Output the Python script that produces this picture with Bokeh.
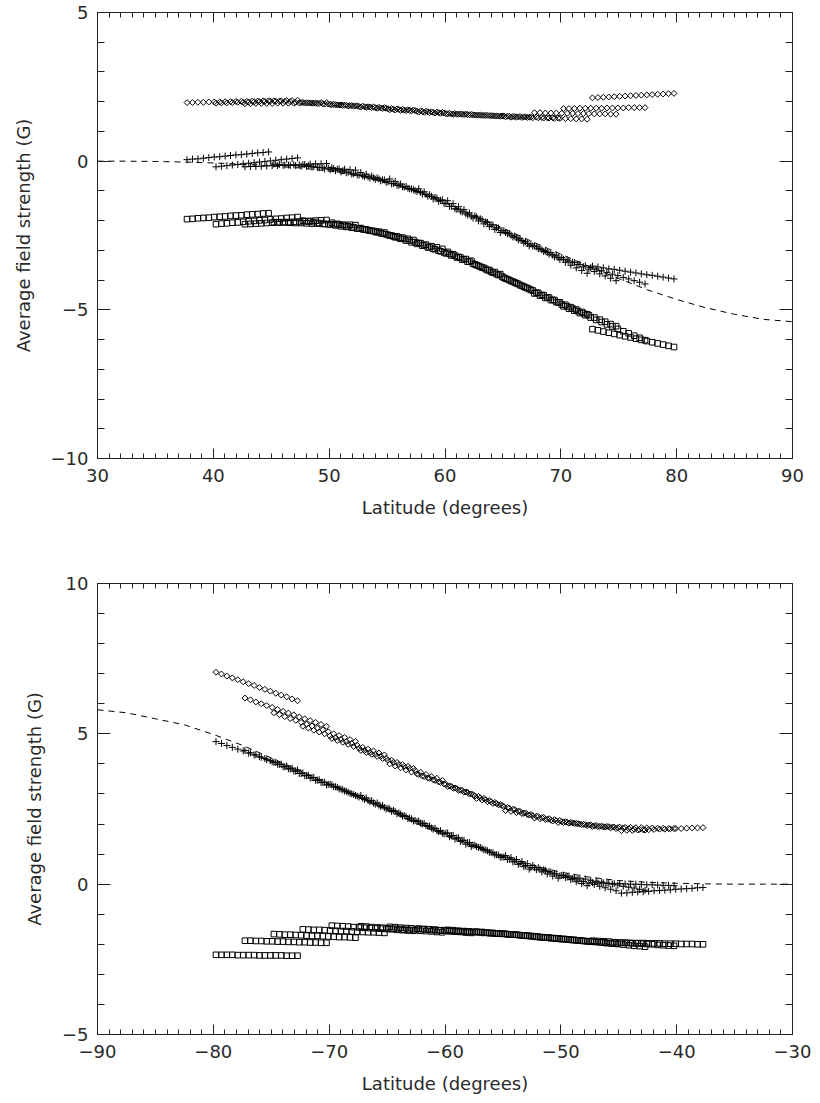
import numpy as np
from bokeh.plotting import figure
from bokeh.models import FixedTicker, LinearAxis, Range1d, CustomLabelingPolicy
from bokeh.layouts import column
from bokeh.embed import file_html
from bokeh.resources import INLINE

# ---------------- data ----------------
# latitude offsets of the 16 bins inside each 7.5-degree window
LAT_OFFSETS = [0.23, 0.70, 1.17, 1.64, 2.11, 2.58, 3.05, 3.52,
               3.98, 4.45, 4.92, 5.39, 5.86, 6.33, 6.80, 7.27]

N_STARTS = [37.5, 40.0, 42.5, 45.0, 47.5, 50.0, 52.5, 55.0,
            57.5, 60.0, 62.5, 65.0, 67.5, 70.0, 72.5]
S_STARTS = [-80.0, -77.5, -75.0, -72.5, -70.0, -67.5, -65.0, -62.5,
            -60.0, -57.5, -55.0, -52.5, -50.0, -47.5, -45.0]

N_DIAMOND = [
    [1.97, 1.97, 1.98, 1.98, 1.99, 1.99, 1.99, 2.00, 2.00, 2.01, 2.01, 2.01, 2.02, 2.02, 2.03, 2.03],
    [1.95, 1.96, 1.96, 1.97, 1.98, 1.98, 1.99, 2.00, 2.00, 2.01, 2.02, 2.02, 2.03, 2.04, 2.04, 2.05],
    [1.93, 1.93, 1.94, 1.94, 1.94, 1.94, 1.95, 1.95, 1.95, 1.95, 1.96, 1.96, 1.96, 1.96, 1.97, 1.97],
    [2.03, 2.02, 2.01, 2.00, 1.98, 1.97, 1.96, 1.95, 1.94, 1.93, 1.92, 1.91, 1.89, 1.88, 1.87, 1.86],
    [1.97, 1.96, 1.95, 1.94, 1.92, 1.91, 1.90, 1.89, 1.88, 1.87, 1.86, 1.85, 1.83, 1.82, 1.81, 1.80],
    [1.90, 1.89, 1.88, 1.86, 1.85, 1.84, 1.83, 1.82, 1.80, 1.79, 1.78, 1.77, 1.76, 1.74, 1.73, 1.72],
    [1.82, 1.81, 1.80, 1.78, 1.77, 1.76, 1.75, 1.74, 1.72, 1.71, 1.70, 1.69, 1.68, 1.66, 1.65, 1.64],
    [1.73, 1.72, 1.71, 1.70, 1.69, 1.68, 1.67, 1.66, 1.64, 1.63, 1.62, 1.61, 1.60, 1.59, 1.58, 1.57],
    [1.65, 1.64, 1.63, 1.62, 1.61, 1.60, 1.59, 1.58, 1.58, 1.57, 1.56, 1.55, 1.54, 1.53, 1.52, 1.51],
    [1.59, 1.58, 1.58, 1.57, 1.56, 1.55, 1.55, 1.54, 1.53, 1.52, 1.52, 1.51, 1.50, 1.49, 1.49, 1.48],
    [1.55, 1.54, 1.54, 1.53, 1.52, 1.52, 1.51, 1.50, 1.50, 1.49, 1.48, 1.48, 1.47, 1.46, 1.46, 1.45],
    [1.49, 1.48, 1.48, 1.47, 1.47, 1.46, 1.46, 1.45, 1.45, 1.44, 1.44, 1.43, 1.43, 1.42, 1.42, 1.41],
    [1.63, 1.63, 1.62, 1.62, 1.62, 1.61, 1.61, 1.61, 1.60, 1.60, 1.60, 1.59, 1.59, 1.59, 1.58, 1.58],
    [1.77, 1.77, 1.77, 1.78, 1.78, 1.78, 1.78, 1.78, 1.79, 1.79, 1.79, 1.79, 1.80, 1.80, 1.80, 1.80],
    [2.13, 2.14, 2.15, 2.16, 2.17, 2.18, 2.19, 2.20, 2.21, 2.22, 2.23, 2.24, 2.25, 2.26, 2.27, 2.28],
]
N_PLUS = [
    [0.05, 0.07, 0.08, 0.10, 0.12, 0.14, 0.15, 0.17, 0.19, 0.21, 0.22, 0.24, 0.26, 0.28, 0.29, 0.31],
    [-0.19, -0.17, -0.15, -0.13, -0.11, -0.09, -0.07, -0.05, -0.03, -0.01, 0.01, 0.03, 0.05, 0.07, 0.09, 0.11],
    [-0.19, -0.18, -0.18, -0.17, -0.16, -0.15, -0.15, -0.14, -0.13, -0.12, -0.12, -0.11, -0.10, -0.09, -0.09, -0.08],
    [-0.10, -0.11, -0.13, -0.14, -0.15, -0.17, -0.18, -0.19, -0.21, -0.22, -0.23, -0.25, -0.26, -0.27, -0.29, -0.30],
    [-0.12, -0.15, -0.19, -0.22, -0.26, -0.29, -0.32, -0.36, -0.39, -0.43, -0.46, -0.49, -0.53, -0.56, -0.60, -0.63],
    [-0.22, -0.27, -0.32, -0.37, -0.42, -0.47, -0.52, -0.57, -0.61, -0.66, -0.71, -0.76, -0.81, -0.86, -0.91, -0.96],
    [-0.38, -0.44, -0.50, -0.56, -0.63, -0.69, -0.75, -0.81, -0.87, -0.93, -0.99, -1.05, -1.12, -1.18, -1.24, -1.30],
    [-0.60, -0.68, -0.77, -0.85, -0.93, -1.02, -1.10, -1.18, -1.27, -1.35, -1.43, -1.52, -1.60, -1.68, -1.77, -1.85],
    [-0.93, -1.03, -1.13, -1.22, -1.32, -1.42, -1.52, -1.62, -1.71, -1.81, -1.91, -2.01, -2.11, -2.20, -2.30, -2.40],
    [-1.33, -1.43, -1.53, -1.63, -1.74, -1.84, -1.94, -2.04, -2.14, -2.24, -2.34, -2.44, -2.55, -2.65, -2.75, -2.85],
    [-1.88, -1.97, -2.06, -2.15, -2.25, -2.34, -2.43, -2.52, -2.61, -2.70, -2.79, -2.88, -2.98, -3.07, -3.16, -3.25],
    [-2.40, -2.49, -2.58, -2.67, -2.77, -2.86, -2.95, -3.04, -3.13, -3.22, -3.31, -3.40, -3.50, -3.59, -3.68, -3.77],
    [-2.85, -2.93, -3.01, -3.08, -3.16, -3.24, -3.32, -3.40, -3.47, -3.55, -3.63, -3.71, -3.79, -3.86, -3.94, -4.02],
    [-3.30, -3.36, -3.41, -3.47, -3.52, -3.58, -3.63, -3.69, -3.74, -3.80, -3.85, -3.91, -3.96, -4.02, -4.07, -4.13],
    [-3.53, -3.56, -3.59, -3.62, -3.64, -3.67, -3.70, -3.73, -3.76, -3.79, -3.82, -3.84, -3.87, -3.90, -3.93, -3.96],
]
N_SQUARE = [
    [-1.95, -1.94, -1.92, -1.91, -1.90, -1.88, -1.87, -1.86, -1.84, -1.83, -1.82, -1.80, -1.79, -1.78, -1.76, -1.75],
    [-2.12, -2.10, -2.09, -2.07, -2.06, -2.04, -2.02, -2.01, -1.99, -1.98, -1.96, -1.94, -1.93, -1.91, -1.90, -1.88],
    [-2.12, -2.11, -2.10, -2.09, -2.08, -2.07, -2.06, -2.05, -2.05, -2.04, -2.03, -2.02, -2.01, -2.00, -1.99, -1.98],
    [-2.05, -2.06, -2.06, -2.07, -2.08, -2.08, -2.09, -2.10, -2.10, -2.11, -2.12, -2.12, -2.13, -2.14, -2.14, -2.15],
    [-2.00, -2.03, -2.05, -2.08, -2.11, -2.13, -2.16, -2.19, -2.21, -2.24, -2.27, -2.29, -2.32, -2.35, -2.37, -2.40],
    [-2.07, -2.11, -2.15, -2.19, -2.22, -2.26, -2.30, -2.34, -2.38, -2.42, -2.46, -2.50, -2.53, -2.57, -2.61, -2.65],
    [-2.25, -2.30, -2.34, -2.39, -2.44, -2.48, -2.53, -2.58, -2.62, -2.67, -2.72, -2.76, -2.81, -2.86, -2.90, -2.95],
    [-2.50, -2.56, -2.61, -2.67, -2.73, -2.78, -2.84, -2.90, -2.95, -3.01, -3.07, -3.12, -3.18, -3.24, -3.29, -3.35],
    [-2.75, -2.82, -2.89, -2.96, -3.03, -3.10, -3.17, -3.24, -3.31, -3.38, -3.45, -3.52, -3.59, -3.66, -3.73, -3.80],
    [-3.05, -3.13, -3.22, -3.30, -3.38, -3.47, -3.55, -3.63, -3.72, -3.80, -3.88, -3.97, -4.05, -4.13, -4.22, -4.30],
    [-3.50, -3.58, -3.67, -3.75, -3.83, -3.92, -4.00, -4.08, -4.17, -4.25, -4.33, -4.42, -4.50, -4.58, -4.67, -4.75],
    [-3.95, -4.03, -4.11, -4.19, -4.27, -4.35, -4.43, -4.51, -4.59, -4.67, -4.75, -4.83, -4.91, -4.99, -5.07, -5.15],
    [-4.45, -4.52, -4.60, -4.67, -4.74, -4.82, -4.89, -4.96, -5.04, -5.11, -5.18, -5.26, -5.33, -5.40, -5.48, -5.55],
    [-4.88, -4.96, -5.03, -5.11, -5.18, -5.26, -5.34, -5.41, -5.49, -5.56, -5.64, -5.72, -5.79, -5.87, -5.94, -6.02],
    [-5.65, -5.69, -5.73, -5.77, -5.81, -5.85, -5.89, -5.93, -5.97, -6.01, -6.05, -6.09, -6.13, -6.17, -6.21, -6.25],
]

S_DIAMOND = [
    [7.05, 6.99, 6.92, 6.86, 6.80, 6.73, 6.67, 6.61, 6.54, 6.48, 6.42, 6.35, 6.29, 6.23, 6.16, 6.10],
    [6.19, 6.13, 6.06, 6.00, 5.94, 5.88, 5.81, 5.75, 5.69, 5.63, 5.56, 5.50, 5.44, 5.38, 5.31, 5.25],
    [5.70, 5.64, 5.57, 5.51, 5.45, 5.38, 5.32, 5.26, 5.19, 5.13, 5.07, 5.00, 4.94, 4.88, 4.81, 4.75],
    [5.25, 5.19, 5.12, 5.06, 5.00, 4.93, 4.87, 4.81, 4.74, 4.68, 4.62, 4.55, 4.49, 4.43, 4.36, 4.30],
    [4.85, 4.78, 4.72, 4.65, 4.58, 4.52, 4.45, 4.38, 4.32, 4.25, 4.18, 4.12, 4.05, 3.98, 3.92, 3.85],
    [4.45, 4.38, 4.32, 4.25, 4.18, 4.12, 4.05, 3.98, 3.92, 3.85, 3.78, 3.72, 3.65, 3.58, 3.52, 3.45],
    [4.00, 3.93, 3.87, 3.80, 3.73, 3.67, 3.60, 3.53, 3.47, 3.40, 3.33, 3.27, 3.20, 3.13, 3.07, 3.00],
    [3.65, 3.58, 3.52, 3.45, 3.38, 3.32, 3.25, 3.18, 3.12, 3.05, 2.98, 2.92, 2.85, 2.78, 2.72, 2.65],
    [3.25, 3.19, 3.12, 3.06, 3.00, 2.93, 2.87, 2.81, 2.74, 2.68, 2.62, 2.55, 2.49, 2.43, 2.36, 2.30],
    [2.85, 2.80, 2.74, 2.69, 2.64, 2.58, 2.53, 2.48, 2.42, 2.37, 2.32, 2.26, 2.21, 2.16, 2.10, 2.05],
    [2.45, 2.42, 2.38, 2.35, 2.32, 2.28, 2.25, 2.22, 2.18, 2.15, 2.12, 2.08, 2.05, 2.02, 1.98, 1.95],
    [2.20, 2.18, 2.15, 2.13, 2.11, 2.08, 2.06, 2.04, 2.01, 1.99, 1.97, 1.94, 1.92, 1.90, 1.87, 1.85],
    [2.05, 2.03, 2.02, 2.00, 1.98, 1.97, 1.95, 1.93, 1.92, 1.90, 1.88, 1.87, 1.85, 1.83, 1.82, 1.80],
    [1.92, 1.92, 1.91, 1.91, 1.90, 1.90, 1.89, 1.89, 1.88, 1.88, 1.87, 1.87, 1.86, 1.86, 1.85, 1.85],
    [1.78, 1.79, 1.79, 1.80, 1.81, 1.81, 1.82, 1.83, 1.83, 1.84, 1.85, 1.85, 1.86, 1.87, 1.87, 1.88],
]
S_PLUS = [
    [4.74, 4.68, 4.61, 4.55, 4.49, 4.43, 4.36, 4.30, 4.24, 4.18, 4.11, 4.05, 3.99, 3.93, 3.86, 3.80],
    [4.45, 4.37, 4.30, 4.22, 4.14, 4.07, 3.99, 3.91, 3.84, 3.76, 3.68, 3.61, 3.53, 3.45, 3.38, 3.30],
    [4.05, 3.98, 3.90, 3.83, 3.76, 3.68, 3.61, 3.54, 3.46, 3.39, 3.32, 3.24, 3.17, 3.10, 3.02, 2.95],
    [3.70, 3.62, 3.55, 3.47, 3.39, 3.32, 3.24, 3.16, 3.09, 3.01, 2.93, 2.86, 2.78, 2.70, 2.63, 2.55],
    [3.30, 3.22, 3.14, 3.06, 2.98, 2.90, 2.82, 2.74, 2.66, 2.58, 2.50, 2.42, 2.34, 2.26, 2.18, 2.10],
    [2.95, 2.87, 2.78, 2.70, 2.62, 2.53, 2.45, 2.37, 2.28, 2.20, 2.12, 2.03, 1.95, 1.87, 1.78, 1.70],
    [2.50, 2.42, 2.33, 2.25, 2.17, 2.08, 2.00, 1.92, 1.83, 1.75, 1.67, 1.58, 1.50, 1.42, 1.33, 1.25],
    [2.10, 2.02, 1.94, 1.86, 1.78, 1.70, 1.62, 1.54, 1.46, 1.38, 1.30, 1.22, 1.14, 1.06, 0.98, 0.90],
    [1.70, 1.62, 1.54, 1.46, 1.38, 1.30, 1.22, 1.14, 1.06, 0.98, 0.90, 0.82, 0.74, 0.66, 0.58, 0.50],
    [1.25, 1.18, 1.11, 1.04, 0.97, 0.90, 0.83, 0.76, 0.69, 0.62, 0.55, 0.48, 0.41, 0.34, 0.27, 0.20],
    [0.95, 0.88, 0.82, 0.75, 0.68, 0.62, 0.55, 0.48, 0.42, 0.35, 0.28, 0.22, 0.15, 0.08, 0.02, -0.05],
    [0.55, 0.50, 0.45, 0.40, 0.34, 0.29, 0.24, 0.19, 0.14, 0.09, 0.04, -0.01, -0.07, -0.12, -0.17, -0.22],
    [0.30, 0.27, 0.23, 0.20, 0.17, 0.13, 0.10, 0.07, 0.03, 0.00, -0.03, -0.07, -0.10, -0.13, -0.17, -0.20],
    [0.05, 0.04, 0.04, 0.03, 0.02, 0.02, 0.01, 0.00, 0.00, -0.01, -0.02, -0.02, -0.03, -0.04, -0.04, -0.05],
    [-0.30, -0.29, -0.27, -0.26, -0.25, -0.24, -0.22, -0.21, -0.20, -0.19, -0.17, -0.16, -0.15, -0.14, -0.12, -0.11],
]
S_SQUARE = [
    [-2.35, -2.35, -2.35, -2.35, -2.36, -2.36, -2.36, -2.36, -2.37, -2.37, -2.37, -2.37, -2.37, -2.38, -2.38, -2.38],
    [-1.88, -1.88, -1.89, -1.89, -1.90, -1.90, -1.91, -1.91, -1.92, -1.92, -1.93, -1.93, -1.94, -1.94, -1.95, -1.95],
    [-1.66, -1.67, -1.68, -1.68, -1.69, -1.70, -1.71, -1.72, -1.72, -1.73, -1.74, -1.75, -1.76, -1.76, -1.77, -1.78],
    [-1.50, -1.51, -1.52, -1.52, -1.53, -1.54, -1.55, -1.56, -1.56, -1.57, -1.58, -1.59, -1.60, -1.60, -1.61, -1.62],
    [-1.38, -1.39, -1.40, -1.41, -1.43, -1.44, -1.45, -1.46, -1.47, -1.48, -1.49, -1.50, -1.52, -1.53, -1.54, -1.55],
    [-1.40, -1.41, -1.43, -1.44, -1.45, -1.47, -1.48, -1.49, -1.51, -1.52, -1.53, -1.55, -1.56, -1.57, -1.59, -1.60],
    [-1.42, -1.43, -1.45, -1.46, -1.47, -1.49, -1.50, -1.51, -1.53, -1.54, -1.55, -1.57, -1.58, -1.59, -1.61, -1.62],
    [-1.48, -1.49, -1.50, -1.51, -1.53, -1.54, -1.55, -1.56, -1.57, -1.58, -1.59, -1.60, -1.62, -1.63, -1.64, -1.65],
    [-1.52, -1.53, -1.55, -1.56, -1.57, -1.59, -1.60, -1.61, -1.63, -1.64, -1.65, -1.67, -1.68, -1.69, -1.71, -1.72],
    [-1.58, -1.59, -1.61, -1.62, -1.64, -1.65, -1.67, -1.68, -1.70, -1.71, -1.73, -1.74, -1.76, -1.77, -1.79, -1.80],
    [-1.65, -1.67, -1.68, -1.70, -1.72, -1.73, -1.75, -1.77, -1.78, -1.80, -1.82, -1.83, -1.85, -1.87, -1.88, -1.90],
    [-1.75, -1.77, -1.78, -1.80, -1.81, -1.83, -1.84, -1.86, -1.87, -1.89, -1.90, -1.92, -1.93, -1.95, -1.96, -1.98],
    [-1.82, -1.84, -1.85, -1.87, -1.89, -1.91, -1.92, -1.94, -1.96, -1.98, -1.99, -2.01, -2.03, -2.05, -2.06, -2.08],
    [-1.88, -1.89, -1.90, -1.91, -1.93, -1.94, -1.95, -1.96, -1.97, -1.98, -1.99, -2.00, -2.02, -2.03, -2.04, -2.05],
    [-1.95, -1.95, -1.96, -1.96, -1.96, -1.97, -1.97, -1.97, -1.98, -1.98, -1.98, -1.99, -1.99, -1.99, -2.00, -2.00],
]

N_MODEL_LAT = [30.0, 32.5, 35.0, 37.5, 40.0, 42.5, 45.0, 47.5, 50.0, 52.5, 55.0, 57.5,
               60.0, 62.5, 65.0, 67.5, 70.0, 72.5, 75.0, 77.5, 80.0, 82.5, 85.0, 87.5, 90.0]
N_MODEL = [0.00, 0.00, -0.01, -0.03, -0.06, -0.10, -0.16, -0.23, -0.33, -0.50, -0.72, -1.03,
           -1.40, -1.82, -2.25, -2.70, -3.13, -3.55, -3.95, -4.33, -4.65, -4.93, -5.15, -5.32, -5.40]
S_MODEL_LAT = [-90.0, -87.5, -85.0, -82.5, -80.0, -77.5, -75.0, -72.5, -70.0, -67.5, -65.0, -62.5,
               -60.0, -57.5, -55.0, -52.5, -50.0, -47.5, -45.0, -42.5, -40.0, -37.5, -35.0, -32.5, -30.0]
S_MODEL = [5.80, 5.70, 5.50, 5.30, 4.98, 4.62, 4.20, 3.77, 3.33, 2.90, 2.46, 2.02,
           1.62, 1.25, 0.92, 0.63, 0.40, 0.23, 0.12, 0.06, 0.03, 0.01, 0.00, 0.00, 0.00]

N_XTICKS = [30, 40, 50, 60, 70, 80, 90]
S_XTICKS = [-90, -80, -70, -60, -50, -40, -30]
N_YTICKS = [-10, -5, 0, 5]
S_YTICKS = [-5, 0, 5, 10]

FONT = "DejaVu Sans"
TXT = "#2a2a2a"
LINE = "#222222"


def lab(v):
    return ("\u2212" + str(abs(v))) if v < 0 else str(v)


def flatten(starts, segs):
    xs, ys = [], []
    for s, seg in zip(starts, segs):
        for off, v in zip(LAT_OFFSETS, seg):
            xs.append(s + off)
            ys.append(v)
    return xs, ys


def base_style(ax):
    ax.major_tick_out = 0
    ax.minor_tick_out = 0
    ax.axis_line_color = LINE
    ax.axis_line_width = 1
    ax.major_tick_line_color = LINE
    ax.minor_tick_line_color = LINE
    ax.major_label_text_font = FONT
    ax.major_label_text_font_size = "18px"
    ax.major_label_text_color = TXT
    ax.axis_label_text_font = FONT
    ax.axis_label_text_font_size = "18px"
    ax.axis_label_text_font_style = "normal"
    ax.axis_label_text_color = TXT


def panel(xr, yr, xticks, yticks, height, btop, bbottom):
    p = figure(width=820, height=height, x_range=Range1d(*xr), y_range=Range1d(*yr),
               output_backend="svg", toolbar_location=None,
               min_border_left=97, min_border_right=28,
               min_border_top=btop, min_border_bottom=bbottom)
    p.grid.visible = False
    p.outline_line_color = None
    p.background_fill_color = "white"
    p.border_fill_color = "white"
    xminor = list(range(xr[0], xr[1] + 1))
    yminor = list(range(yr[0], yr[1] + 1))
    xt = FixedTicker(ticks=xticks, minor_ticks=xminor)
    yt = FixedTicker(ticks=yticks, minor_ticks=yminor)

    bx = p.below[0]
    ly = p.left[0]

    top = LinearAxis(ticker=xt)
    right = LinearAxis(ticker=yt)

    for ax in [bx, top]:
        ax.ticker = xt
        base_style(ax)
        ax.major_tick_in = 10
        ax.minor_tick_in = 5
    for ax in [ly, right]:
        ax.ticker = yt
        base_style(ax)
        ax.major_tick_in = 13
        ax.minor_tick_in = 7
    for ax in [top, right]:
        ax.major_label_policy = CustomLabelingPolicy(code="return")
        ax.major_label_text_font_size = "1px"
        ax.major_label_standoff = 0
    p.add_layout(top, "above")
    p.add_layout(right, "right")

    bx.major_label_overrides = {v: lab(v) for v in xticks}
    bx.major_label_standoff = 10
    bx.axis_label = "Latitude (degrees)"
    bx.axis_label_standoff = 12
    ly.major_label_overrides = {v: lab(v) for v in yticks}
    ly.major_label_standoff = 9
    ly.axis_label = "Average field strength (G)"
    ly.axis_label_standoff = 14
    return p


def draw(p, starts, dia, plus, sq, mlat, model):
    x, y = flatten(starts, dia)
    p.scatter(x, y, marker="square", angle=np.pi / 4, size=4.2,
              fill_color=None, line_color="black", line_width=1)
    x, y = flatten(starts, plus)
    p.scatter(x, y, marker="cross", size=7, line_color="black", line_width=1)
    x, y = flatten(starts, sq)
    p.scatter(x, y, marker="square", size=5.6,
              fill_color=None, line_color="black", line_width=1)
    p.line(mlat, model, line_color="black", line_width=1, line_dash="6 5")


p1 = panel((30, 90), (-10, 5), N_XTICKS, N_YTICKS, 540, 12, 82)
draw(p1, N_STARTS, N_DIAMOND, N_PLUS, N_SQUARE, N_MODEL_LAT, N_MODEL)

p2 = panel((-90, -30), (-5, 10), S_XTICKS, S_YTICKS, 563, 43, 69)
draw(p2, S_STARTS, S_DIAMOND, S_PLUS, S_SQUARE, S_MODEL_LAT, S_MODEL)

layout = column(p1, p2, spacing=0)
open("out.html", "w").write(file_html(layout, INLINE))
